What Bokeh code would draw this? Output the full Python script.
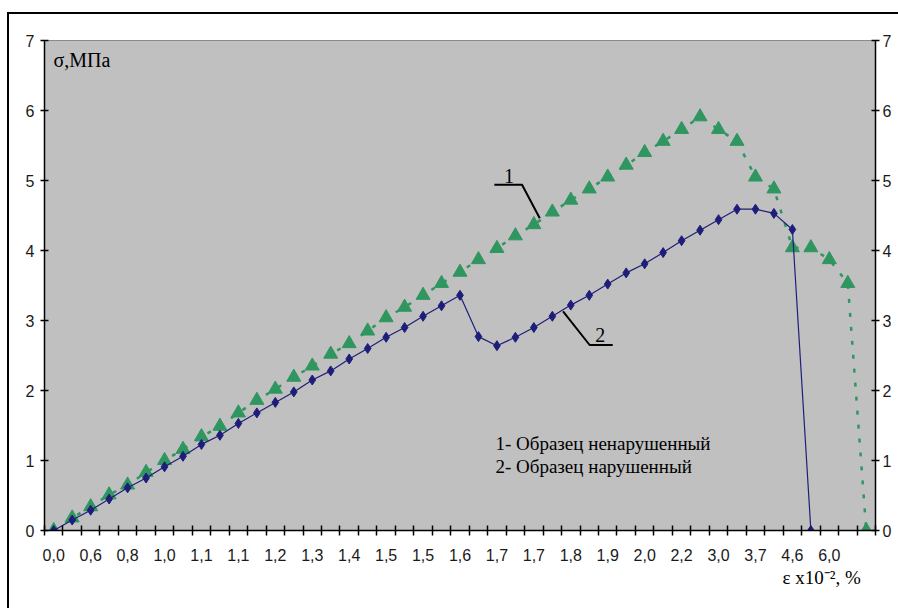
from bokeh.plotting import figure
from bokeh.models import Range1d, FixedTicker, LinearAxis, Label, Title
from bokeh.embed import file_html
from bokeh.resources import INLINE

# ---- data ----
x_tick_labels = ["0,0", "0,6", "0,8", "1,0", "1,1", "1,1", "1,2", "1,3", "1,4", "1,5", "1,5",
                 "1,6", "1,7", "1,7", "1,8", "1,9", "2,0", "2,2", "3,0", "3,7", "4,6", "6,0"]
n_categories = 45

# 1 - undisturbed sample (green triangles)
sample1 = [0.00, 0.18, 0.34, 0.51, 0.65, 0.83, 1.00, 1.16, 1.34, 1.49, 1.68, 1.86, 2.02, 2.19,
           2.35, 2.52, 2.67, 2.85, 3.04, 3.19, 3.36, 3.53, 3.69, 3.87, 4.03, 4.21, 4.37, 4.55,
           4.72, 4.88, 5.05, 5.22, 5.40, 5.56, 5.73, 5.91, 5.73, 5.56, 5.05, 4.88, 4.04, 4.04,
           3.87, 3.53, 0.00]
# 2 - disturbed sample (navy diamonds)
sample2 = [0.00, 0.15, 0.29, 0.45, 0.61, 0.75, 0.91, 1.06, 1.23, 1.36, 1.53, 1.68, 1.83, 1.98,
           2.15, 2.28, 2.45, 2.60, 2.76, 2.90, 3.06, 3.21, 3.36, 2.77, 2.64, 2.76, 2.90, 3.06,
           3.22, 3.36, 3.52, 3.68, 3.81, 3.97, 4.14, 4.29, 4.44, 4.59, 4.59, 4.53, 4.30, 0.00]
y_ticks = [0, 1, 2, 3, 4, 5, 6, 7]

x1 = list(range(len(sample1)))
x2 = list(range(len(sample2)))

GREEN = "#2F9660"
NAVY = "#1E1E7A"
SERIF = "Liberation Serif"
SANS = "Liberation Sans"

p = figure(width=898, height=608, output_backend="svg", toolbar_location=None,
           x_range=Range1d(-0.5, n_categories - 0.5), y_range=Range1d(0, 7),
           min_border_left=44, min_border_right=23, min_border_top=40, min_border_bottom=78,
           x_axis_location=None, y_axis_location=None)
p.background_fill_color = "#C0C0C0"
p.border_fill_color = None
p.outline_line_color = "#8A8A8A"
p.outline_line_width = 1
p.xgrid.visible = False
p.ygrid.visible = False
# outer frame of the picture (only top and left edges are inside the window)
p.styles = {"background": "linear-gradient(#000,#000) 7px 12px / 100% 2px no-repeat, "
                          "linear-gradient(#000,#000) 7px 12px / 2px 100% no-repeat, #fff"}

# x axis (categories)
xaxis = LinearAxis(ticker=FixedTicker(ticks=list(range(n_categories)),
                                      minor_ticks=[k - 0.5 for k in range(n_categories + 1)]))
overrides = {k: "" for k in range(n_categories)}
for i, lab in enumerate(x_tick_labels):
    overrides[2 * i] = lab
xaxis.major_label_overrides = overrides
xaxis.major_tick_in = 0
xaxis.major_tick_out = 0
xaxis.minor_tick_in = 5
xaxis.minor_tick_out = 5
xaxis.minor_tick_line_color = "black"
xaxis.minor_tick_line_width = 1.5
xaxis.axis_line_color = "black"
xaxis.axis_line_width = 1.5
xaxis.major_label_standoff = 13
xaxis.major_label_text_font = SANS
xaxis.major_label_text_font_size = "16px"
xaxis.major_label_text_color = "#1a1a1a"
p.add_layout(xaxis, "below")

# x axis title, right-aligned under the axis
p.add_layout(Title(text="ε  x10⁻², %", align="right", offset=10, standoff=2,
                   text_font=SERIF, text_font_size="19px", text_font_style="normal",
                   text_color="black"), "below")

for side, standoff in (("left", 6), ("right", 3)):
    ax = LinearAxis(ticker=FixedTicker(ticks=y_ticks, minor_ticks=[]))
    ax.major_tick_in = 4
    ax.major_tick_out = 4
    ax.major_tick_line_width = 1.5
    ax.major_tick_line_color = "black"
    ax.axis_line_color = "black"
    ax.axis_line_width = 1.5
    ax.major_label_standoff = standoff
    ax.major_label_text_font = SANS
    ax.major_label_text_font_size = "16px"
    ax.major_label_text_color = "#1a1a1a"
    p.add_layout(ax, side)

# series 1 - green dotted line with triangles
p.line(x1, sample1, line_color=GREEN, line_width=2.5, line_dash="4 10")
p.scatter(x1, sample1, marker="triangle", size=14, fill_color=GREEN, line_color=GREEN)

# series 2 - navy solid line with diamonds
p.line(x2, sample2, line_color=NAVY, line_width=1.2)
p.scatter(x2, sample2, marker="diamond", size=10, fill_color=NAVY, line_color=NAVY)

# leader lines and numbers
lead1_x = [26.32, 25.36, 23.86]
lead1_y = [4.46, 4.94, 4.94]
lead2_x = [27.58, 29.02, 30.27]
lead2_y = [3.13, 2.65, 2.65]
p.line(lead1_x, lead1_y, line_color="black", line_width=2)
p.line(lead2_x, lead2_y, line_color="black", line_width=2)


def note(x, y, text, size, style="normal"):
    p.add_layout(Label(x=x, y=y, text=text, text_font=SERIF, text_font_size=size,
                       text_font_style=style, text_baseline="middle", text_color="black"))


note(24.38, 5.06, "1", "20px")
note(29.32, 2.80, "2", "20px")

# legend text
note(23.92, 1.25, "1- Образец ненарушенный", "19px")
note(23.92, 0.91, "2- Образец нарушенный", "19px")

# y axis title
note(-0.013, 6.72, "σ,МПа", "20px")

open("out.html", "w").write(file_html(p, INLINE))
